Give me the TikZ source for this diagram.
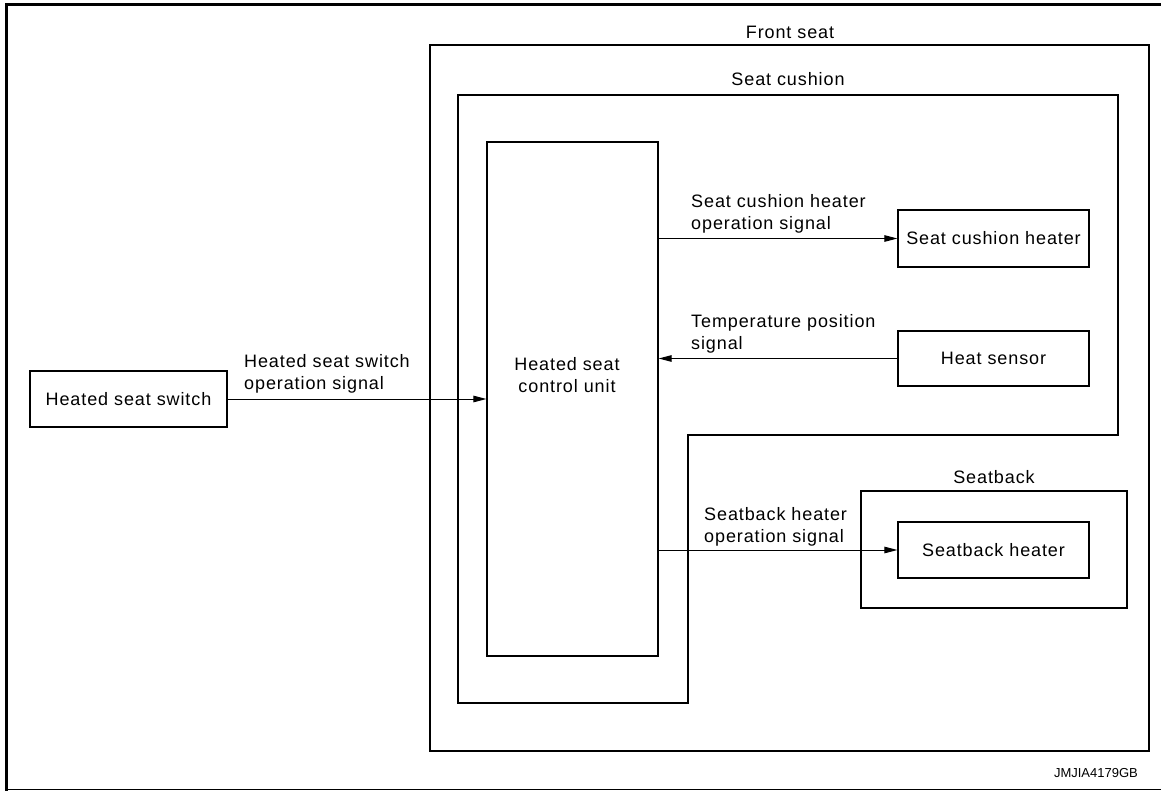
\documentclass[tikz,border=0pt]{standalone}
\usepackage{fontspec}
\setmainfont{Liberation Sans}[LetterSpace=5]
\newfontfamily\codefont{Liberation Sans}
\usetikzlibrary{arrows.meta}
\begin{document}
\begin{tikzpicture}[x=1pt,y=-1pt,
  blk/.style={draw, line width=1.2pt, inner sep=0pt, font=\fontsize{18}{22}\selectfont},
  area/.style={draw, line width=1.4pt},
  lbl/.style={inner sep=0pt, align=left, font=\fontsize{18}{22}\selectfont},
  sig/.style={line width=1pt, -{Triangle[length=13pt,width=6.5pt]}}]
\useasboundingbox (0,0) rectangle (1161,791);
% frame
\draw[line width=3pt] (1161,5) -- (6,5) -- (6,791);
\draw[line width=1pt] (6,789) -- (1161,789);
% areas
\draw[area] (430,45) rectangle (1149,751);
\node[lbl, anchor=base] (fslbl) at (790,39) {Front seat};
\draw[area] (458,95) -- (1118,95) -- (1118,435) -- (688,435) -- (688,703) -- (458,703) -- cycle;
\node[lbl, anchor=base] (sclbl) at (788,86) {Seat cushion};
\draw[area] (861,491) rectangle (1127,608);
\node[lbl, anchor=base] (sblbl) at (994,483) {Seatback};
% blocks
\node[blk, minimum width=197pt, minimum height=56pt] (sw) at (128.5,399) {Heated seat switch};
\node[blk, minimum width=171pt, minimum height=514pt] (cu) at (572.5,399) {};
\node[lbl, align=center, anchor=base] (cutext) at (567,392) {Heated seat\\control unit};
\node[blk, minimum width=191pt, minimum height=57pt] (ch) at (993.5,238.5) {Seat cushion heater};
\node[blk, minimum width=191pt, minimum height=55pt] (hs) at (993.5,358.5) {Heat sensor};
\node[blk, minimum width=191pt, minimum height=56pt] (sbh) at (993.5,550) {Seatback heater};
% signals
\draw[sig] (sw.east) -- (cu.west);
\draw[sig] (cu.east |- ch.west) -- (ch.west);
\draw[sig] (hs.west) -- (cu.east |- hs.west);
\draw[sig] (cu.east |- sbh.west) -- (sbh.west);
% signal labels (base = baseline of the last line)
\node[lbl, anchor=base west] (l1) at (244,389) {Heated seat switch\\operation signal};
\node[lbl, anchor=base west] (l2) at (691,230) {Seat cushion heater\\operation signal};
\node[lbl, anchor=base west] (l3) at (691,349) {Temperature position\\signal};
\node[lbl, anchor=base west] (l4) at (704,542) {Seatback heater\\operation signal};
\node[inner sep=0pt, anchor=base east, font=\codefont\fontsize{13}{15}\selectfont] (code) at (1138,777) {JMJIA4179GB};
\end{tikzpicture}
\end{document}
